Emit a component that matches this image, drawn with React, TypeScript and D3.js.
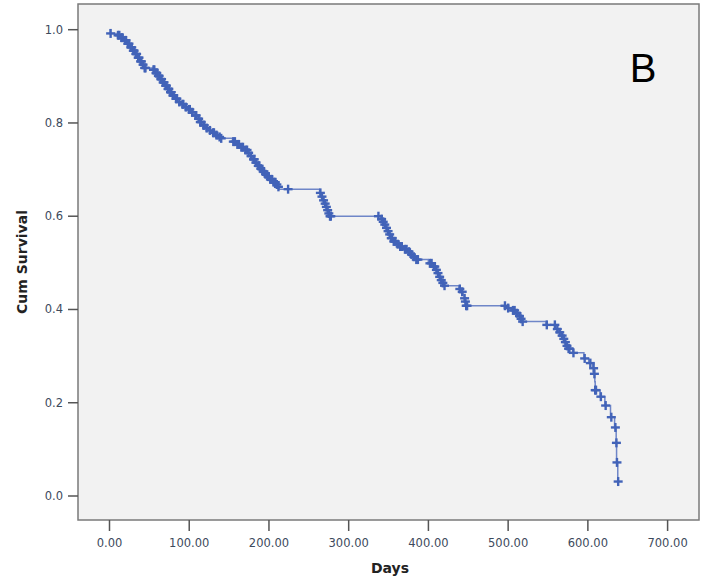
import React from "react";
import * as d3 from "d3";

// Kaplan-Meier steps: day of event and survival after it
const eventDays = [
  0.93, 8.7, 13.8, 17.8, 21.9, 25.9, 28.9, 32, 35, 38, 41, 43.1,
  54.2, 57.2, 60.3, 63.3, 66.3, 69.4, 72.4, 75.4, 78.5, 81.5, 85.5, 89.6, 93.6, 97.7, 101.7, 105.8, 109.8,
  112.8, 115.9, 119.9, 124, 128, 132, 136.1, 139.1,
  154.3, 159.3, 164.4, 169.5, 173.5, 176.5, 179.6, 182.6, 185.6, 188.7, 191.7, 194.7, 197.8, 200.8, 204.8,
  208.9, 210.9, 212.9,
  263.5, 265.5, 267.5, 269.5, 271.5, 273.1, 274.6, 275.6,
  340.3, 342.3, 344.3, 346.4, 348.4, 350.4, 352.4, 355.5, 359.5, 363.5, 368.6, 373.7, 377.7, 380.7, 383.8,
  399.9, 406, 409, 411, 413, 415.1, 417.1, 418.6,
  438.3, 441.4, 443.4, 444.9, 445.9, 446.9,
  498, 505.1, 510.1, 513.2, 515.2, 517.2,
  547.5, 559.7, 563.7, 566.7, 568.8, 570.8, 572.8, 574.8, 580.9,
  595, 601.1, 606.2, 607.7, 608.7, 609.2, 615.3, 621.3, 628.4, 633.5, 635.5, 636, 637.5,
];
const eventSurv = [
  0.992, 0.988, 0.983, 0.977, 0.97, 0.962, 0.955, 0.948, 0.94, 0.932, 0.925, 0.918,
  0.914, 0.907, 0.901, 0.894, 0.887, 0.88, 0.873, 0.866, 0.859, 0.852, 0.845, 0.84, 0.834, 0.829, 0.823, 0.816, 0.809,
  0.802, 0.795, 0.789, 0.784, 0.779, 0.774, 0.77, 0.767,
  0.76, 0.754, 0.748, 0.742, 0.736, 0.729, 0.722, 0.715, 0.708, 0.702, 0.696, 0.69, 0.685, 0.679, 0.673,
  0.668, 0.663, 0.658,
  0.65, 0.642, 0.634, 0.627, 0.62, 0.613, 0.606, 0.6,
  0.594, 0.588, 0.582, 0.575, 0.568, 0.561, 0.553, 0.546, 0.54, 0.535, 0.529, 0.524, 0.518, 0.513, 0.507,
  0.499, 0.492, 0.485, 0.478, 0.47, 0.463, 0.457, 0.451,
  0.444, 0.438, 0.431, 0.424, 0.417, 0.408,
  0.403, 0.398, 0.392, 0.386, 0.38, 0.374,
  0.367, 0.358, 0.351, 0.344, 0.337, 0.33, 0.322, 0.316, 0.307,
  0.295, 0.285, 0.274, 0.262, 0.245, 0.227, 0.213, 0.194, 0.169, 0.147, 0.114, 0.072, 0.031,
];
// censored cases (days)
const censorDays = [
  1.4, 10.7, 12.3, 14.8, 16.3, 19.8, 20.8, 22.9, 24.4, 26.9, 27.9, 29.9, 30.9, 33, 34, 36, 37, 39, 40, 42.1,
  44.1, 45.1,
  55.2, 56.2, 58.3, 59.3, 61.3, 62.3, 64.3, 65.3, 67.3, 68.4, 70.4, 71.4, 73.4, 74.4, 76.5, 77.5, 79.5, 80.5,
  83.5, 84.5, 87.6, 91.6, 92.6, 95.7, 99.7, 100.7, 103.7, 107.8, 108.8, 111.8, 113.9, 114.9, 117.9, 118.9,
  121.9, 126, 130, 131, 134.1, 138.1, 140.1,
  155.3, 157.3, 160.4, 162.4, 165.4, 167.4, 170.5, 172.5, 174.5, 177.5, 180.6, 181.6, 183.6, 186.6, 187.7,
  189.7, 192.7, 193.7, 195.7, 198.8, 199.8, 201.8, 203.8, 205.8, 207.9, 209.9, 211.9, 224,
  264.5, 266.5, 268.5, 270.5, 272, 273.6, 275.1, 276.6, 277.6,
  337.3, 341.3, 343.3, 345.3, 347.4, 349.4, 351.4, 353.4, 354.4, 356.5, 358.5, 361.5, 364.6, 366.6, 370.6,
  372.6, 375.7, 378.7, 381.7, 384.8, 386.8,
  401.9, 404, 407, 408, 410, 412, 414.1, 416.1, 418.1, 420.2,
  439.4, 442.4, 445.4, 446.4, 447.4, 448.5,
  496, 500, 506.1, 508.1, 511.1, 514.2, 516.2, 518.2,
  548.5, 558.6, 561.7, 564.7, 567.7, 569.8, 571.8, 573.8, 575.8, 576.8, 581.9,
  596, 603.1, 607.2, 608.2, 609.2, 610.2, 616.3, 622.3, 629.4, 634.5, 635.8, 636.5, 638,
];
const xTicks = [0, 100, 200, 300, 400, 500, 600, 700];
const yTicks = [0, 0.2, 0.4, 0.6, 0.8, 1.0];

const W = 707;
const H = 585;
const box = { left: 78, top: 4, right: 699, bottom: 520 };

export default function App() {
  const x = d3.scaleLinear().domain([0, 700]).range([109.5, 667.6]);
  const y = d3.scaleLinear().domain([0, 1]).range([496, 29.7]);

  const steps: [number, number][] = [[0, 1]];
  eventDays.forEach((d, i) => steps.push([d, eventSurv[i]]));
  const lastDay = d3.max(censorDays) as number;
  steps.push([lastDay, eventSurv[eventSurv.length - 1]]);

  const line = d3
    .line<[number, number]>()
    .x((d) => x(d[0]))
    .y((d) => y(d[1]))
    .curve(d3.curveStepAfter);

  const bis = d3.bisector((d: number) => d).right;
  const survAt = (t: number) => {
    const i = bis(eventDays, t);
    return i === 0 ? 1 : eventSurv[i - 1];
  };

  const tickFont = "'DejaVu Sans', Verdana, sans-serif";
  const blue = "#4263b8";

  return (
    <svg width={W} height={H} style={{ position: "absolute", left: 0, top: 0 }}>
      <rect x={0} y={0} width={W} height={H} fill="#ffffff" />
      <rect
        x={box.left}
        y={box.top}
        width={box.right - box.left}
        height={box.bottom - box.top}
        fill="#f2f2f2"
        stroke="#7a7a7a"
        strokeWidth={1.5}
      />
      {/* y axis */}
      {yTicks.map((t) => (
        <g key={"y" + t}>
          <line x1={68} x2={box.left} y1={y(t)} y2={y(t)} stroke="#555" strokeWidth={1.5} />
          <text
            x={63}
            y={y(t) + 4}
            textAnchor="end"
            fontFamily={tickFont}
            fontSize={11.5}
            fill="#3d4a5c"
          >
            {t.toFixed(1)}
          </text>
        </g>
      ))}
      {/* x axis */}
      {xTicks.map((t) => (
        <g key={"x" + t}>
          <line x1={x(t)} x2={x(t)} y1={box.bottom} y2={box.bottom + 11} stroke="#555" strokeWidth={1.5} />
          <text
            x={x(t)}
            y={box.bottom + 27}
            textAnchor="middle"
            fontFamily={tickFont}
            fontSize={11.5}
            fill="#3d4a5c"
          >
            {t.toFixed(2)}
          </text>
        </g>
      ))}
      <text
        x={390}
        y={573}
        textAnchor="middle"
        fontFamily={tickFont}
        fontWeight="bold"
        fontSize={14}
        fill="#222"
      >
        Days
      </text>
      <text
        transform={`translate(27,262) rotate(-90)`}
        textAnchor="middle"
        fontFamily={tickFont}
        fontWeight="bold"
        fontSize={14}
        fill="#222"
      >
        Cum Survival
      </text>
      {/* survival curve */}
      <path d={line(steps) || ""} fill="none" stroke="#6f86c8" strokeWidth={1.5} />
      {censorDays.map((t, i) => {
        const cx = x(t);
        const cy = y(survAt(t));
        return (
          <g key={"c" + i} stroke={blue} strokeWidth={2.4}>
            <line x1={cx - 4.5} x2={cx + 4.5} y1={cy} y2={cy} />
            <line x1={cx} x2={cx} y1={cy - 4.5} y2={cy + 4.5} />
          </g>
        );
      })}
      <text
        x={643}
        y={82}
        textAnchor="middle"
        fontFamily="'Liberation Sans', Arial, sans-serif"
        fontSize={40}
        fill="#000"
      >
        B
      </text>
    </svg>
  );
}
